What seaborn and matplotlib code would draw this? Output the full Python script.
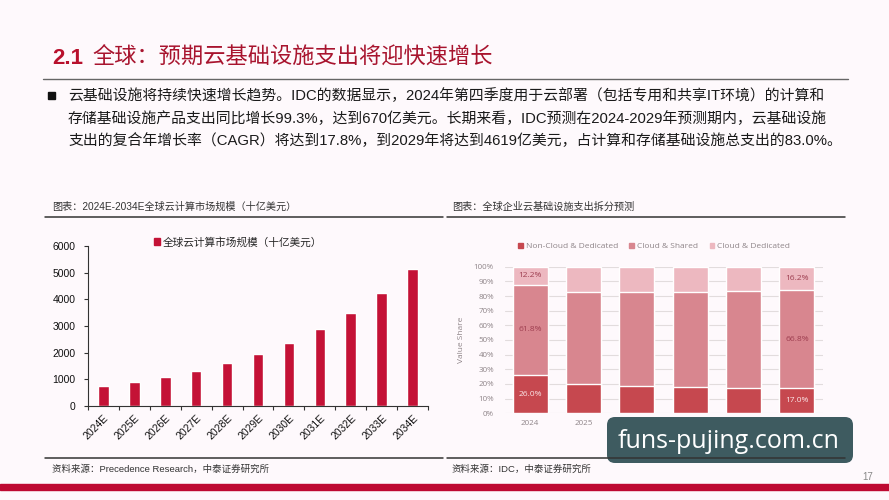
import numpy as np
import seaborn as sns
import matplotlib.pyplot as plt
from matplotlib.patches import Patch, Rectangle, FancyBboxPatch

# ---- data ----
years_left = ["2024E", "2025E", "2026E", "2027E", "2028E", "2029E",
              "2030E", "2031E", "2032E", "2033E", "2034E"]
market_size = [750, 900, 1100, 1330, 1620, 1960, 2370, 2880, 3500, 4240, 5150]

years_right = ["2024", "2025", "2026", "2027", "2028", "2029"]
non_cloud = [26.0, 20.0, 18.9, 18.0, 17.5, 17.0]
cloud_shared = [61.8, 62.5, 63.6, 64.7, 66.1, 66.8]
cloud_dedicated = [12.2, 17.5, 17.5, 17.3, 16.4, 16.2]
series_names = ["Non-Cloud & Dedicated", "Cloud & Shared", "Cloud & Dedicated"]

body_text = [
    "云基础设施将持续快速增长趋势。IDC的数据显示，2024年第四季度用于云部署（包括专用和共享IT环境）的计算和",
    "存储基础设施产品支出同比增长99.3%，达到670亿美元。长期来看，IDC预测在2024-2029年预测期内，云基础设施",
    "支出的复合年增长率（CAGR）将达到17.8%，到2029年将达到4619亿美元，占计算和存储基础设施总支出的83.0%。",
]

sns.set_theme(style="white")
CJK = ["Liberation Sans", "Noto Sans CJK SC"]
plt.rcParams["font.family"] = CJK

BG = "#FEF9FC"
RED = "#C41236"
C_DARK, C_MID, C_LIGHT = "#C6484F", "#D8868F", "#EDB8C0"
GRAY = "#8f8589"

W, H = 889, 500
fig = plt.figure(figsize=(W / 100, H / 100), dpi=100, facecolor=BG)

def rect(l, t, r, b):
    return [l / W, 1 - b / H, (r - l) / W, (b - t) / H]

# ---- left chart ----
ax1 = fig.add_axes(rect(88, 246, 428, 406))
ax1.set_facecolor("none")
sns.barplot(x=years_left, y=market_size, color=RED, saturation=1,
            width=0.34, ax=ax1)
ax1.set_xlim(-0.5, 10.5)
ax1.set_ylim(0, 6000)
ax1.set_yticks(range(0, 6001, 1000))
ax1.set_xlabel("")
ax1.set_ylabel("")
for s in ["top", "right"]:
    ax1.spines[s].set_visible(False)
for s in ["left", "bottom"]:
    ax1.spines[s].set_color("#333333")
    ax1.spines[s].set_linewidth(0.8)
ax1.tick_params(axis="y", left=True, length=3, width=0.8, color="#333333",
                labelsize=7.5, pad=6, labelcolor="#111111")
ax1.set_xticks(range(len(years_left)))
ax1.set_xticklabels(years_left, rotation=45, ha="right", va="top",
                    rotation_mode="anchor", fontsize=7.5, color="#111111")
ax1.tick_params(axis="x", bottom=True, length=0, pad=5)
ax1.set_xticks(np.arange(-0.5, len(years_left), 1), minor=True)
ax1.tick_params(axis="x", which="minor", bottom=True, length=3, width=0.8,
                color="#333333")
ax1.legend(handles=[Patch(color=RED, label="全球云计算市场规模（十亿美元）")],
           loc="center left", bbox_to_anchor=(154 / W, 1 - 242 / H),
           bbox_transform=fig.transFigure, frameon=False, fontsize=7.7,
           handlelength=0.55, handleheight=0.55, handletextpad=0.3,
           borderpad=0, borderaxespad=0)

# ---- right chart ----
ax2 = fig.add_axes(rect(505, 266.7, 823, 413.3))
ax2.set_facecolor("none")
ax2.yaxis.grid(True, color="#e2dcdd", lw=0.8)
ax2.set_axisbelow(True)
lower = np.array(non_cloud)
middle = lower + np.array(cloud_shared)
total = middle + np.array(cloud_dedicated)
for vals, col in [(total, C_LIGHT), (middle, C_MID), (lower, C_DARK)]:
    sns.barplot(x=years_right, y=vals, color=col, saturation=1,
                width=0.655, ax=ax2)
ax2.set_xlim(-0.47, 5.49)
ax2.set_ylim(0, 100)
ax2.set_yticks(range(0, 101, 10))
ax2.set_yticklabels([f"{v}%" for v in range(0, 101, 10)])
for s in ax2.spines.values():
    s.set_visible(False)
ax2.tick_params(axis="both", length=0, labelsize=5.8, labelcolor=GRAY)
ax2.tick_params(axis="y", pad=8)
ax2.tick_params(axis="x", pad=5)
for lab in ax2.get_xticklabels() + ax2.get_yticklabels():
    lab.set_family("Open Sans")
ax2.set_xlabel("")
ax2.set_ylabel("Value Share", fontsize=6, color=GRAY, family="Open Sans",
               labelpad=6)
for i in [0, len(years_right) - 1]:
    ax2.text(i, (middle[i] + total[i]) / 2, f"{cloud_dedicated[i]:.1f}%",
             ha="center", va="center", fontsize=6, color="#9e3e50",
             family="Open Sans")
    ax2.text(i, (lower[i] + middle[i]) / 2, f"{cloud_shared[i]:.1f}%",
             ha="center", va="center", fontsize=6, color="#9e3e50",
             family="Open Sans")
    ax2.text(i, lower[i] / 2, f"{non_cloud[i]:.1f}%",
             ha="center", va="center", fontsize=6, color="#fbe6e8",
             family="Open Sans")
leg = ax2.legend(handles=[Patch(color=c, label=n) for c, n in
                          zip([C_DARK, C_MID, C_LIGHT], series_names)],
                 loc="center left", bbox_to_anchor=(518 / W, 1 - 246.5 / H),
                 bbox_transform=fig.transFigure, frameon=False, ncol=3,
                 handlelength=0.55, handleheight=0.55,
                 handletextpad=0.35, columnspacing=1.4, borderpad=0,
                 borderaxespad=0, prop={"family": "Open Sans", "size": 6})
for t in leg.get_texts():
    t.set_color(GRAY)

# ---- slide decorations (pixel coordinates) ----
deco = fig.add_axes([0, 0, 1, 1], zorder=5)
deco.set_xlim(0, W)
deco.set_ylim(H, 0)
deco.axis("off")
deco.patch.set_alpha(0)

deco.text(52, 58, "2.1", fontsize=16, fontweight="bold", color="#B8102C",
          va="center", ha="left")
deco.text(92, 57, "全球：预期云基础设施支出将迎快速增长", fontsize=16,
          color="#A8142E", va="center", ha="left", family="Noto Sans CJK SC")
deco.plot([43, 848], [79, 79], color="#666666", lw=1)

deco.add_patch(Rectangle((48, 92), 7, 7, color="#111111"))
for k, line in enumerate(body_text):
    deco.text(68, 96 + 22.5 * k, line, fontsize=10.7, color="#1a1a1a",
              va="center", ha="left")

deco.text(52, 207, "图表：2024E-2034E全球云计算市场规模（十亿美元）",
          fontsize=7.3, color="#333333", va="center")
deco.text(452, 207, "图表：全球企业云基础设施支出拆分预测",
          fontsize=7.3, color="#333333", va="center")
deco.plot([45, 443], [217, 217], color="#333333", lw=1.1)
deco.plot([447, 845], [217, 217], color="#333333", lw=1.1)

# watermark box
deco.add_patch(FancyBboxPatch((611, 421), 238, 38,
                              boxstyle="round,pad=4,rounding_size=8",
                              facecolor="#3E5B60", edgecolor="none"))
deco.text(729, 442, "funs-pujing.com.cn", fontsize=18, color="white",
          ha="center", va="center", family="Open Sans")

deco.plot([45, 443], [458, 458], color="#333333", lw=1.1)
deco.plot([447, 845], [458, 458], color="#333333", lw=1.1)
deco.text(52, 469, "资料来源：Precedence Research，中泰证券研究所",
          fontsize=6.8, color="#333333", va="center")
deco.text(452, 469, "资料来源：IDC，中泰证券研究所",
          fontsize=6.8, color="#333333", va="center")
deco.text(862, 477, "17", fontsize=7, color="#888888", va="center")
deco.add_patch(Rectangle((0, 483.5), W, 6.5, color="#BE0A32"))

fig.savefig("out.png", dpi=100, facecolor=BG)
